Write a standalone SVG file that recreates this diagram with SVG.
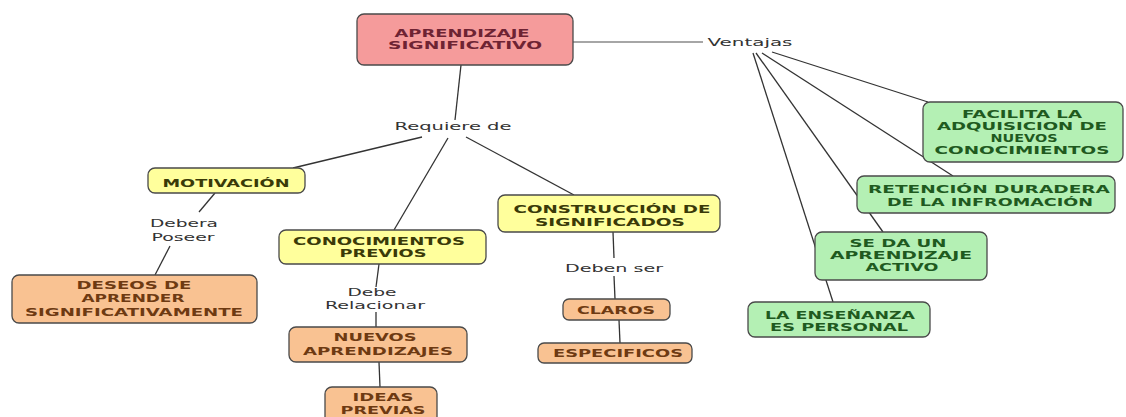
<svg xmlns="http://www.w3.org/2000/svg" width="1126" height="417" viewBox="0 0 1126 417">
<style>
text{font-family:"DejaVu Sans","Liberation Sans",sans-serif;text-anchor:middle;lengthAdjust:spacingAndGlyphs}
.n{font-size:11px;font-weight:bold}
.g{font-size:10px;font-weight:bold;fill:#1f5a1f}
.l{font-size:11px;fill:#333}
.box{stroke:#4a4a4a;stroke-width:1.3}
.pink{fill:#f59b9b}
.yel{fill:#ffff9c}
.org{fill:#f9c292}
.grn{fill:#b4f0b4}
.tp{fill:#6e2333}
.ty{fill:#3a3a08}
.to{fill:#6e3a12}
.c{stroke:#333;stroke-width:1.3;fill:none}
</style>
<rect width="1126" height="417" fill="#ffffff"/>
<g id="connectors">
<line class="c" x1="573" y1="42" x2="703" y2="42" style="stroke:#888"/>
<line class="c" x1="461" y1="65" x2="455" y2="120"/>
<line class="c" x1="422" y1="137" x2="293" y2="168"/>
<line class="c" x1="448" y1="138" x2="394" y2="230"/>
<line class="c" x1="466" y1="137" x2="574" y2="195"/>
<line class="c" x1="215" y1="193" x2="199" y2="212"/>
<line class="c" x1="170" y1="246" x2="155" y2="275"/>
<line class="c" x1="379" y1="264" x2="376" y2="287"/>
<line class="c" x1="376" y1="312" x2="376" y2="327"/>
<line class="c" x1="379" y1="362" x2="380" y2="387"/>
<line class="c" x1="613" y1="232" x2="614" y2="258"/>
<line class="c" x1="614" y1="276" x2="615" y2="299"/>
<line class="c" x1="619" y1="320" x2="620" y2="343"/>
<line class="c" x1="772" y1="52" x2="928" y2="102"/>
<line class="c" x1="762" y1="53" x2="953" y2="176"/>
<line class="c" x1="756" y1="53" x2="883" y2="232"/>
<line class="c" x1="753" y1="53" x2="833" y2="302"/>
</g>
<g id="aprendizaje">
<rect class="box pink" x="357" y="14" width="216" height="51" rx="7"/>
<text class="n tp" x="462" y="37" textLength="135" lengthAdjust="spacingAndGlyphs">APRENDIZAJE</text>
<text class="n tp" x="465" y="49" textLength="154" lengthAdjust="spacingAndGlyphs">SIGNIFICATIVO</text>
</g>
<g id="ventajas">
<text class="l" x="750" y="46" textLength="85" lengthAdjust="spacingAndGlyphs">Ventajas</text>
</g>
<g id="requiere">
<text class="l" x="453" y="130" textLength="117" lengthAdjust="spacingAndGlyphs">Requiere de</text>
</g>
<g id="motivacion">
<rect class="box yel" x="148" y="168" width="157" height="25" rx="7"/>
<text class="n ty" x="226" y="187" textLength="127" lengthAdjust="spacingAndGlyphs">MOTIVACIÓN</text>
</g>
<g id="debera">
<text class="l" x="184" y="227" textLength="68" lengthAdjust="spacingAndGlyphs">Debera</text>
<text class="l" x="183" y="241" textLength="63" lengthAdjust="spacingAndGlyphs">Poseer</text>
</g>
<g id="deseos">
<rect class="box org" x="12" y="275" width="245" height="48" rx="7"/>
<text class="n to" x="134" y="289" textLength="115" lengthAdjust="spacingAndGlyphs">DESEOS DE</text>
<text class="n to" x="133" y="302" textLength="103" lengthAdjust="spacingAndGlyphs">APRENDER</text>
<text class="n to" x="134" y="316" textLength="218" lengthAdjust="spacingAndGlyphs">SIGNIFICATIVAMENTE</text>
</g>
<g id="conocimientos">
<rect class="box yel" x="279" y="230" width="207" height="34" rx="7"/>
<text class="n ty" x="379" y="245" textLength="172" lengthAdjust="spacingAndGlyphs">CONOCIMIENTOS</text>
<text class="n ty" x="383" y="257" textLength="87" lengthAdjust="spacingAndGlyphs">PREVIOS</text>
</g>
<g id="debe">
<text class="l" x="372" y="296" textLength="49" lengthAdjust="spacingAndGlyphs">Debe</text>
<text class="l" x="375" y="309" textLength="100" lengthAdjust="spacingAndGlyphs">Relacionar</text>
</g>
<g id="nuevos">
<rect class="box org" x="289" y="327" width="178" height="35" rx="7"/>
<text class="n to" x="375" y="341" textLength="83" lengthAdjust="spacingAndGlyphs">NUEVOS</text>
<text class="n to" x="378" y="355" textLength="150" lengthAdjust="spacingAndGlyphs">APRENDIZAJES</text>
</g>
<g id="ideas">
<rect class="box org" x="325" y="387" width="112" height="40" rx="7"/>
<text class="n to" x="383" y="401" textLength="61" lengthAdjust="spacingAndGlyphs">IDEAS</text>
<text class="n to" x="383" y="414" textLength="85" lengthAdjust="spacingAndGlyphs">PREVIAS</text>
</g>
<g id="construccion">
<rect class="box yel" x="498" y="195" width="222" height="37" rx="7"/>
<text class="n ty" x="612" y="213" textLength="197" lengthAdjust="spacingAndGlyphs">CONSTRUCCIÓN DE</text>
<text class="n ty" x="610" y="226" textLength="150" lengthAdjust="spacingAndGlyphs">SIGNIFICADOS</text>
</g>
<g id="deben">
<text class="l" x="614" y="272" textLength="98" lengthAdjust="spacingAndGlyphs">Deben ser</text>
</g>
<g id="claros">
<rect class="box org" x="563" y="299" width="107" height="21" rx="6"/>
<text class="n to" x="616" y="314" textLength="78" lengthAdjust="spacingAndGlyphs">CLAROS</text>
</g>
<g id="especificos">
<rect class="box org" x="538" y="343" width="154" height="20" rx="6"/>
<text class="n to" x="618" y="357" textLength="130" lengthAdjust="spacingAndGlyphs">ESPECIFICOS</text>
</g>
<g id="facilita">
<rect class="box grn" x="923" y="102" width="200" height="60" rx="7"/>
<text class="g" x="1022" y="118" textLength="120" lengthAdjust="spacingAndGlyphs">FACILITA LA</text>
<text class="g" x="1022" y="130" textLength="170" lengthAdjust="spacingAndGlyphs">ADQUISICION DE</text>
<text class="g" x="1024" y="142" textLength="67" lengthAdjust="spacingAndGlyphs">NUEVOS</text>
<text class="g" x="1022" y="154" textLength="175" lengthAdjust="spacingAndGlyphs">CONOCIMIENTOS</text>
</g>
<g id="retencion">
<rect class="box grn" x="857" y="176" width="258" height="37" rx="7"/>
<text class="g" x="989" y="193" textLength="242" lengthAdjust="spacingAndGlyphs">RETENCIÓN DURADERA</text>
<text class="g" x="990" y="206" textLength="206" lengthAdjust="spacingAndGlyphs">DE LA INFROMACIÓN</text>
</g>
<g id="seda">
<rect class="box grn" x="815" y="232" width="172" height="48" rx="7"/>
<text class="g" x="898" y="247" textLength="97" lengthAdjust="spacingAndGlyphs">SE DA UN</text>
<text class="g" x="901" y="259" textLength="142" lengthAdjust="spacingAndGlyphs">APRENDIZAJE</text>
<text class="g" x="902" y="271" textLength="73" lengthAdjust="spacingAndGlyphs">ACTIVO</text>
</g>
<g id="ensenanza">
<rect class="box grn" x="748" y="302" width="182" height="35" rx="7"/>
<text class="g" x="840" y="319" textLength="150" lengthAdjust="spacingAndGlyphs">LA ENSEÑANZA</text>
<text class="g" x="839" y="331" textLength="138" lengthAdjust="spacingAndGlyphs">ES PERSONAL</text>
</g>
</svg>
